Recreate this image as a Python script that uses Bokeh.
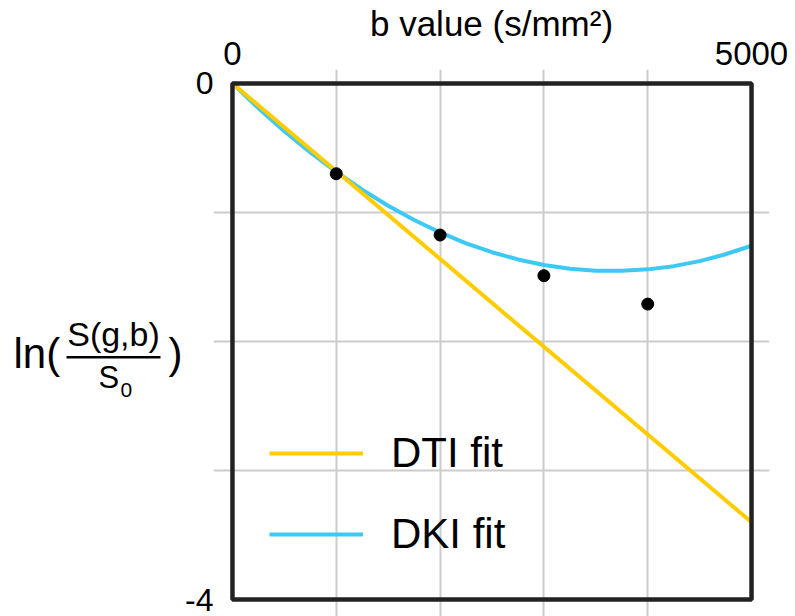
from bokeh.plotting import figure
from bokeh.models import Range1d, FixedTicker, Legend, LegendItem
from bokeh.layouts import row
from bokeh.core.properties import value
from bokeh.embed import file_html
from bokeh.resources import INLINE

FONT = "Liberation Sans"

# ---- data ----
b_curve = [0, 250, 500, 750, 1000, 1250, 1500, 1750, 2000, 2250, 2500,
           2750, 3000, 3250, 3500, 3750, 4000, 4250, 4500, 4750, 5000]
dki_curve = [0.0, -0.192, -0.370, -0.535, -0.686, -0.824, -0.948, -1.058,
             -1.155, -1.239, -1.308, -1.364, -1.407, -1.436, -1.451, -1.452,
             -1.441, -1.416, -1.377, -1.324, -1.258]
dti_b = [0, 5000]
dti_y = [0.0, -3.40]
meas_b = [1000, 2000, 3000, 4000]
meas_y = [-0.70, -1.175, -1.49, -1.71]
x_ticks = [0, 5000]
y_ticks = [0, -4]
x_tick_labels = {0: "0", 5000: "5000"}
y_tick_labels = {0: "0", -4: "-4"}
x_grid = [1000, 2000, 3000, 4000]
y_grid = [-1, -2, -3]
series_labels = ["DTI fit", "DKI fit"]
x_title = "b value (s/mm\u00b2)"

# ---- layout helpers (pixels of the 795x616 page) ----
H = 616
LEFT_W = 182                      # width of the y-title panel
X0P, X1P, Y0P, Y1P = 231.0, 751.0, 79.0, 599.0
XMIN, XMAX, YMAX, YMIN = 0.0, 5000.0, 0.0, -4.0
SX = (X1P - X0P) / (XMAX - XMIN)
SY = (Y1P - Y0P) / (YMAX - YMIN)
PANEL_FIX = -27.5   # empirical vertical correction of the title panel
MID = 0.3465        # baseline -> text-box middle, in em


def px2x(px):
    return XMIN + (px - X0P) / SX


def px2y(py):
    return YMAX - (py - Y0P) / SY


# ---------------- main chart ----------------
p = figure(width=795 - LEFT_W, height=H, output_backend="svg",
           toolbar_location=None, title=None,
           x_range=Range1d(px2x(212), px2x(769)),
           y_range=Range1d(px2y(616), px2y(65)),
           x_axis_location="above",
           min_border_left=212 - LEFT_W, min_border_right=26,
           min_border_top=65, min_border_bottom=0)
p.outline_line_color = None
p.background_fill_color = "white"
p.border_fill_color = "white"

for ax, ticks, labels in ((p.xaxis[0], x_ticks, x_tick_labels),
                          (p.yaxis[0], y_ticks, y_tick_labels)):
    ax.ticker = FixedTicker(ticks=ticks)
    ax.major_label_overrides = labels
    ax.axis_line_color = None
    ax.major_tick_line_color = None
    ax.minor_tick_line_color = None
    ax.major_tick_in = 0
    ax.major_tick_out = 0
    ax.major_label_text_font = FONT
    ax.major_label_text_color = "black"

p.xaxis[0].major_label_text_font_size = "33px"
p.yaxis[0].major_label_text_font_size = "32px"
p.xaxis[0].major_label_standoff = 5
p.yaxis[0].major_label_standoff = 0
p.xaxis[0].axis_label = x_title
p.xaxis[0].axis_label_text_font = FONT
p.xaxis[0].axis_label_text_font_size = "35px"
p.xaxis[0].axis_label_text_font_style = "normal"
p.xaxis[0].axis_label_text_color = "black"
p.xaxis[0].axis_label_standoff = -4

p.xgrid.ticker = FixedTicker(ticks=x_grid)
p.ygrid.ticker = FixedTicker(ticks=y_grid)
for g in (p.xgrid[0], p.ygrid[0]):
    g.grid_line_color = "#cccccc"
    g.grid_line_width = 2

dki_r = p.line(b_curve, dki_curve, line_color="#3DC9F4", line_width=4)
dti_r = p.line(dti_b, dti_y, line_color="#FFCC00", line_width=4)
p.quad(left=[XMIN], right=[XMAX], top=[YMAX], bottom=[YMIN],
       fill_color=None, line_color="#222222", line_width=4.5)
p.scatter(meas_b, meas_y, size=12, color="black")

legend = Legend(items=[LegendItem(label=series_labels[0], renderers=[dti_r]),
                       LegendItem(label=series_labels[1], renderers=[dki_r])],
                location=(56, 57), label_text_font=FONT,
                label_text_font_size="42px", label_text_color="black",
                glyph_width=94, glyph_height=50, label_height=50,
                spacing=31, label_standoff=28, padding=0, margin=0,
                border_line_color=None, background_fill_alpha=0)
p.add_layout(legend)

# ---------------- y-axis title panel: ln( S(g,b) / S0 ) ----------------
q = figure(width=LEFT_W, height=H, output_backend="svg",
           toolbar_location=None, title=None,
           x_axis_type=None, y_axis_type=None,
           x_range=Range1d(0, LEFT_W), y_range=Range1d(0, H),
           min_border_left=0, min_border_right=0,
           min_border_top=0, min_border_bottom=0)
q.grid.visible = False
q.outline_line_color = None
q.background_fill_color = "white"
q.border_fill_color = "white"


def txt(px, base_py, text, size, align="left"):
    anchor = base_py - MID * size + PANEL_FIX
    q.text(x=[px], y=[H - anchor], text=[text], text_font=value(FONT),
           text_font_size=f"{size}px", text_align=align,
           text_baseline="alphabetic", text_color="black")


txt(13, 362, "ln(", 42)
txt(113, 337, "S(g,b)", 34, "center")
bar_y = H - (351.5 + PANEL_FIX)
q.segment(x0=[66], y0=[bar_y], x1=[160], y1=[bar_y],
          line_color="black", line_width=2.5)
txt(98, 385, "S", 31)
txt(120, 396, "0", 21)
txt(168, 362, ")", 42)

layout = row(q, p)
open("out.html", "w").write(file_html(layout, INLINE))
